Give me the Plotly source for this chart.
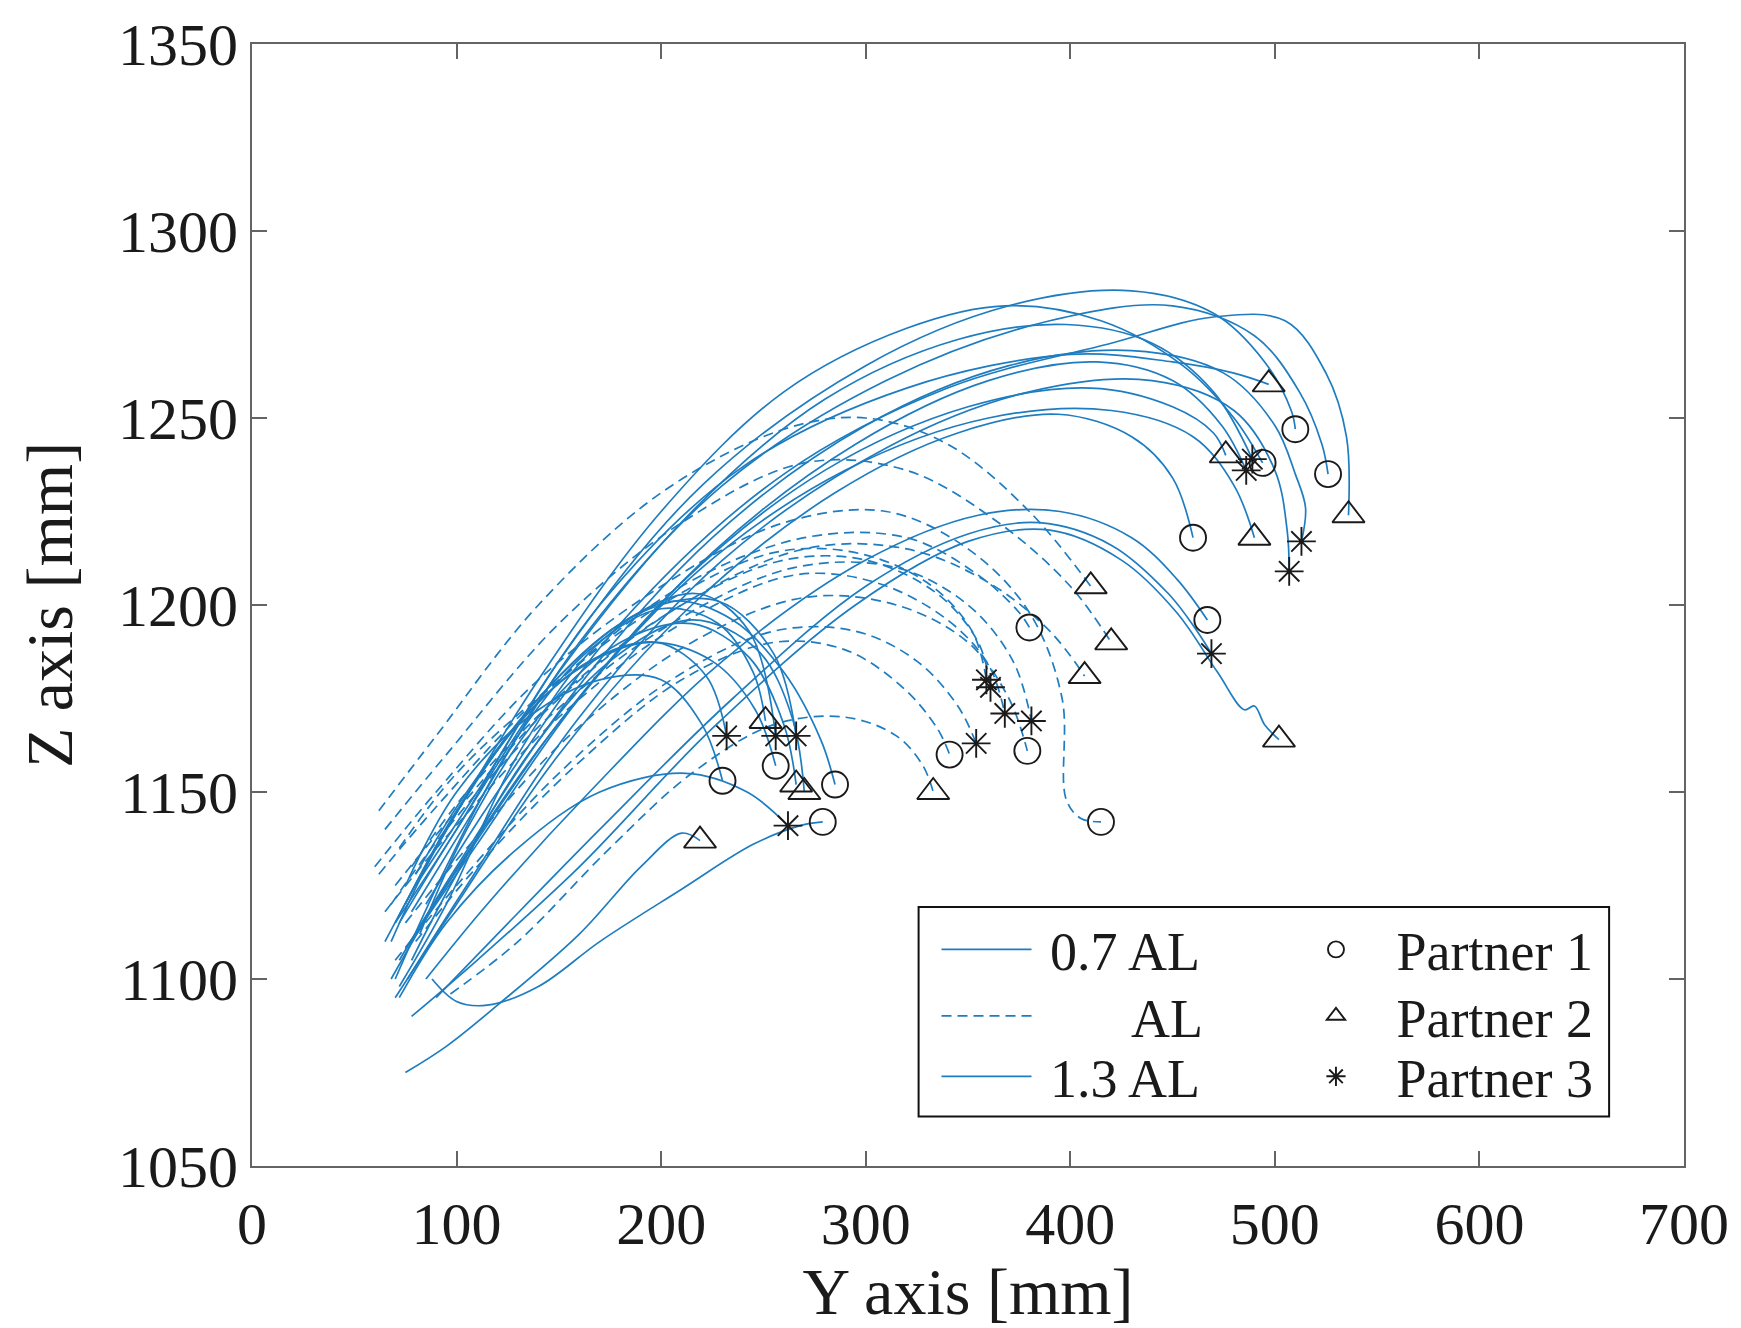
import plotly.graph_objects as go

# ---------------- data ----------------
# Axis ticks
x_ticks = [0, 100, 200, 300, 400, 500, 600, 700]
z_ticks = [1050, 1100, 1150, 1200, 1250, 1300, 1350]

# 0.7 AL trajectories (solid), Y and Z coordinates [mm]
y_07 = [
    [72, 95, 130, 170, 205, 235, 260, 278, 285],
    [88, 100, 115, 140, 170, 210, 245, 268, 279],
    [68, 90, 125, 160, 195, 225, 246, 256],
    [75, 100, 135, 170, 200, 220, 230],
    [75, 95, 120, 160, 190, 210, 219],
    [70, 95, 130, 165, 200, 228, 245, 251],
    [82, 105, 140, 180, 215, 243, 260, 266],
    [78, 100, 135, 175, 215, 247, 264, 270],
    [70, 95, 130, 165, 198, 222, 232],
    [75, 100, 140, 180, 218, 243, 256],
    [80, 105, 145, 190, 228, 255, 266],
    [72, 95, 130, 170, 212, 242, 262],
]
z_07 = [
    [1098, 1120, 1160, 1190, 1201, 1196, 1182, 1164, 1152],
    [1100, 1094, 1093, 1098, 1110, 1124, 1136, 1141, 1142],
    [1110, 1135, 1165, 1183, 1190, 1185, 1172, 1157],
    [1125, 1150, 1170, 1180, 1180, 1168, 1153],
    [1075, 1082, 1093, 1112, 1130, 1139, 1137],
    [1100, 1130, 1165, 1188, 1199, 1195, 1182, 1169],
    [1112, 1140, 1170, 1190, 1195, 1186, 1168, 1152],
    [1105, 1128, 1160, 1185, 1196, 1188, 1170, 1150],
    [1115, 1140, 1168, 1185, 1190, 1181, 1165],
    [1120, 1145, 1175, 1195, 1203, 1193, 1165],
    [1128, 1150, 1178, 1198, 1201, 1187, 1165],
    [1095, 1115, 1135, 1150, 1155, 1150, 1141],
]
partner_07 = [1, 1, 1, 1, 2, 2, 2, 2, 3, 3, 3, 3]

# AL trajectories (dashed)
y_al = [
    [62, 90, 140, 200, 260, 300, 340, 380, 410],
    [65, 95, 150, 210, 270, 320, 365, 400, 420],
    [60, 90, 140, 200, 260, 310, 350, 380, 396, 398, 405, 415],
    [70, 100, 150, 210, 270, 320, 360, 390, 407],
    [72, 100, 150, 210, 270, 320, 355, 375, 380],
    [68, 95, 145, 205, 265, 315, 350, 372, 381],
    [75, 105, 155, 215, 270, 315, 350, 370, 379],
    [65, 95, 150, 210, 265, 305, 340, 360, 368],
    [78, 105, 155, 210, 260, 300, 335, 355, 361],
    [62, 90, 140, 200, 255, 295, 330, 352, 359],
    [70, 100, 150, 205, 255, 295, 325, 345, 354],
    [80, 110, 160, 210, 255, 290, 318, 335, 341],
    [97, 130, 175, 215, 255, 290, 315, 328, 333],
]
z_al = [
    [1145, 1165, 1200, 1230, 1247, 1250, 1243, 1225, 1205],
    [1140, 1160, 1195, 1222, 1238, 1236, 1222, 1205, 1190],
    [1130, 1150, 1180, 1205, 1222, 1225, 1215, 1198, 1175, 1148, 1143, 1142],
    [1125, 1145, 1175, 1200, 1215, 1215, 1206, 1193, 1181],
    [1135, 1155, 1180, 1205, 1218, 1218, 1208, 1198, 1194],
    [1120, 1140, 1170, 1195, 1210, 1210, 1200, 1185, 1169],
    [1115, 1135, 1165, 1190, 1202, 1200, 1190, 1175, 1161],
    [1118, 1138, 1170, 1195, 1208, 1206, 1196, 1184, 1171],
    [1130, 1150, 1178, 1200, 1212, 1212, 1203, 1190, 1178],
    [1128, 1146, 1175, 1200, 1214, 1214, 1206, 1193, 1180],
    [1105, 1125, 1155, 1180, 1193, 1193, 1185, 1173, 1163],
    [1110, 1130, 1158, 1180, 1190, 1188, 1178, 1167, 1160],
    [1096, 1110, 1135, 1155, 1168, 1170, 1165, 1157, 1150],
]
partner_al = [2, 2, 1, 2, 1, 3, 1, 3, 3, 3, 3, 1, 2]

# 1.3 AL trajectories (solid)
y_13 = [
    [80, 110, 170, 240, 320, 400, 450, 480, 497],
    [70, 100, 150, 220, 300, 370, 430, 470, 495, 508, 510],
    [78, 105, 160, 230, 310, 390, 450, 490, 512, 523, 526],
    [85, 120, 180, 260, 340, 420, 470, 505, 525, 535, 536],
    [72, 100, 155, 225, 300, 370, 430, 475, 500, 510, 515, 513],
    [76, 105, 160, 230, 310, 380, 440, 480, 500, 506, 507],
    [65, 90, 140, 200, 260, 320, 368, 415, 455, 480, 494],
    [72, 100, 150, 215, 280, 345, 398, 440, 470, 489],
    [80, 110, 160, 225, 295, 360, 413, 450, 474, 486],
    [68, 95, 145, 210, 280, 350, 410, 450, 470, 476],
    [75, 105, 155, 220, 290, 360, 420, 460, 480, 490],
    [70, 100, 150, 215, 285, 345, 394, 430, 450, 460],
    [85, 115, 165, 230, 300, 355, 395, 430, 452, 467],
    [90, 120, 170, 235, 300, 350, 385, 420, 448, 462, 469],
    [78, 110, 160, 225, 295, 350, 390, 425, 452, 472, 485, 490, 495, 502],
]
z_13 = [
    [1125, 1150, 1200, 1237, 1258, 1267, 1265, 1262, 1259],
    [1115, 1140, 1185, 1232, 1264, 1280, 1284, 1278, 1265, 1252, 1247],
    [1118, 1142, 1190, 1232, 1260, 1276, 1280, 1272, 1257, 1243, 1235],
    [1120, 1150, 1195, 1235, 1258, 1270, 1277, 1276, 1262, 1245, 1224],
    [1105, 1130, 1175, 1218, 1248, 1264, 1268, 1262, 1248, 1235, 1226, 1217],
    [1100, 1125, 1170, 1212, 1242, 1257, 1260, 1252, 1236, 1220, 1209],
    [1110, 1135, 1180, 1225, 1257, 1274, 1280, 1276, 1264, 1250, 1238],
    [1115, 1140, 1182, 1225, 1255, 1271, 1275, 1270, 1257, 1239],
    [1112, 1136, 1175, 1214, 1243, 1260, 1265, 1260, 1248, 1236],
    [1100, 1125, 1165, 1206, 1236, 1253, 1258, 1253, 1246, 1240],
    [1108, 1133, 1172, 1210, 1236, 1250, 1252, 1245, 1232, 1218],
    [1095, 1120, 1160, 1200, 1230, 1246, 1251, 1245, 1234, 1218],
    [1100, 1120, 1150, 1185, 1212, 1224, 1225, 1218, 1207, 1196],
    [1095, 1112, 1140, 1175, 1205, 1219, 1222, 1216, 1203, 1193, 1187],
    [1090, 1105, 1130, 1167, 1200, 1217, 1220, 1212, 1198, 1182, 1172, 1173, 1168, 1164],
]
partner_13 = [2, 1, 1, 2, 3, 3, 1, 3, 3, 2, 2, 1, 1, 3, 2]

condition_names = ["0.7 AL", "AL", "1.3 AL"]
partner_names = ["Partner 1", "Partner 2", "Partner 3"]

# ---------------- figure ----------------
LINE_COLOR = "rgb(30,125,192)"
NB = "\u00a0"
legend_line_labels = [NB + "0.7 AL", NB * 7 + "AL", NB + "1.3 AL"]
dashes = ["solid", "10px,6px", "solid"]
line_legends = ["legend", "legend2", "legend3"]
marker_legends = ["legend4", "legend5", "legend6"]

fig = go.Figure()

conditions = [(y_07, z_07), (y_al, z_al), (y_13, z_13)]
for c, (ys, zs) in enumerate(conditions):
    for i, (yy, zz) in enumerate(zip(ys, zs)):
        fig.add_trace(go.Scatter(
            x=yy, y=zz, mode="lines",
            line=dict(color=LINE_COLOR, width=1.7, dash=dashes[c], shape="spline", smoothing=1.0),
            name=legend_line_labels[c], legendgroup=condition_names[c],
            showlegend=(i == 0), legend=line_legends[c], hoverinfo="skip",
        ))

partners_all = [partner_07, partner_al, partner_13]
symbols = ["circle-open", "triangle-up-open", "asterisk-open"]
sizes = [26, 28, 24]
for p in range(3):
    px, pz = [], []
    for (ys, zs), plist in zip(conditions, partners_all):
        for yy, zz, pp in zip(ys, zs, plist):
            if pp == p + 1:
                px.append(yy[-1])
                pz.append(zz[-1])
    fig.add_trace(go.Scatter(
        x=px, y=pz, mode="markers",
        marker=dict(symbol=symbols[p], size=sizes[p], color="#1a1a1a",
                    line=dict(width=1.9, color="#1a1a1a")),
        name=NB * 3 + partner_names[p], legend=marker_legends[p], hoverinfo="skip",
    ))

axis_common = dict(
    showgrid=False, zeroline=False, showline=True, linecolor="rgb(100,100,100)", linewidth=2,
    mirror="ticks", ticks="inside", ticklen=15, tickwidth=2, tickcolor="rgb(100,100,100)",
    ticklabeloverflow="allow",
    tickfont=dict(size=60, family="Liberation Serif", color="#1a1a1a"),
)

row_y = [0.1927, 0.1335, 0.0796]
legend_style = dict(xanchor="left", yanchor="middle", bgcolor="rgba(0,0,0,0)",
                    borderwidth=0, font=dict(size=54), tracegroupgap=0)
legends = {}
for r in range(3):
    legends[line_legends[r]] = dict(x=0.478, y=row_y[r], itemwidth=90, **legend_style)
    legends[marker_legends[r]] = dict(x=0.743, y=row_y[r], itemwidth=30, **legend_style)

fig.update_layout(
    width=1741, height=1328,
    margin=dict(l=252, r=54, t=36, b=161),
    plot_bgcolor="white", paper_bgcolor="white",
    font=dict(family="Liberation Serif, Times New Roman, serif", color="#1a1a1a"),
    xaxis=dict(range=[0, 700], tickvals=x_ticks, ticktext=[str(v) for v in x_ticks],
               ticklabelstandoff=4,
               title=dict(text="Y axis [mm]", font=dict(size=66), standoff=13), **axis_common),
    yaxis=dict(range=[1050, 1350], tickvals=z_ticks, ticktext=[str(v) for v in z_ticks],
               title=dict(text="Z axis [mm]", font=dict(size=66), standoff=24), **axis_common),
    shapes=[dict(type="rect", xref="paper", yref="paper", x0=0.4655, x1=0.9477, y0=0.0442, y1=0.2308,
                 line=dict(color="#111111", width=2), fillcolor="white", layer="below")],
    **legends,
)

fig.write_html(
    "out.html",
    config={"displayModeBar": False},
    post_script="document.body.style.margin='0';document.body.style.overflow='hidden';"
                "document.documentElement.style.overflow='hidden';",
)
